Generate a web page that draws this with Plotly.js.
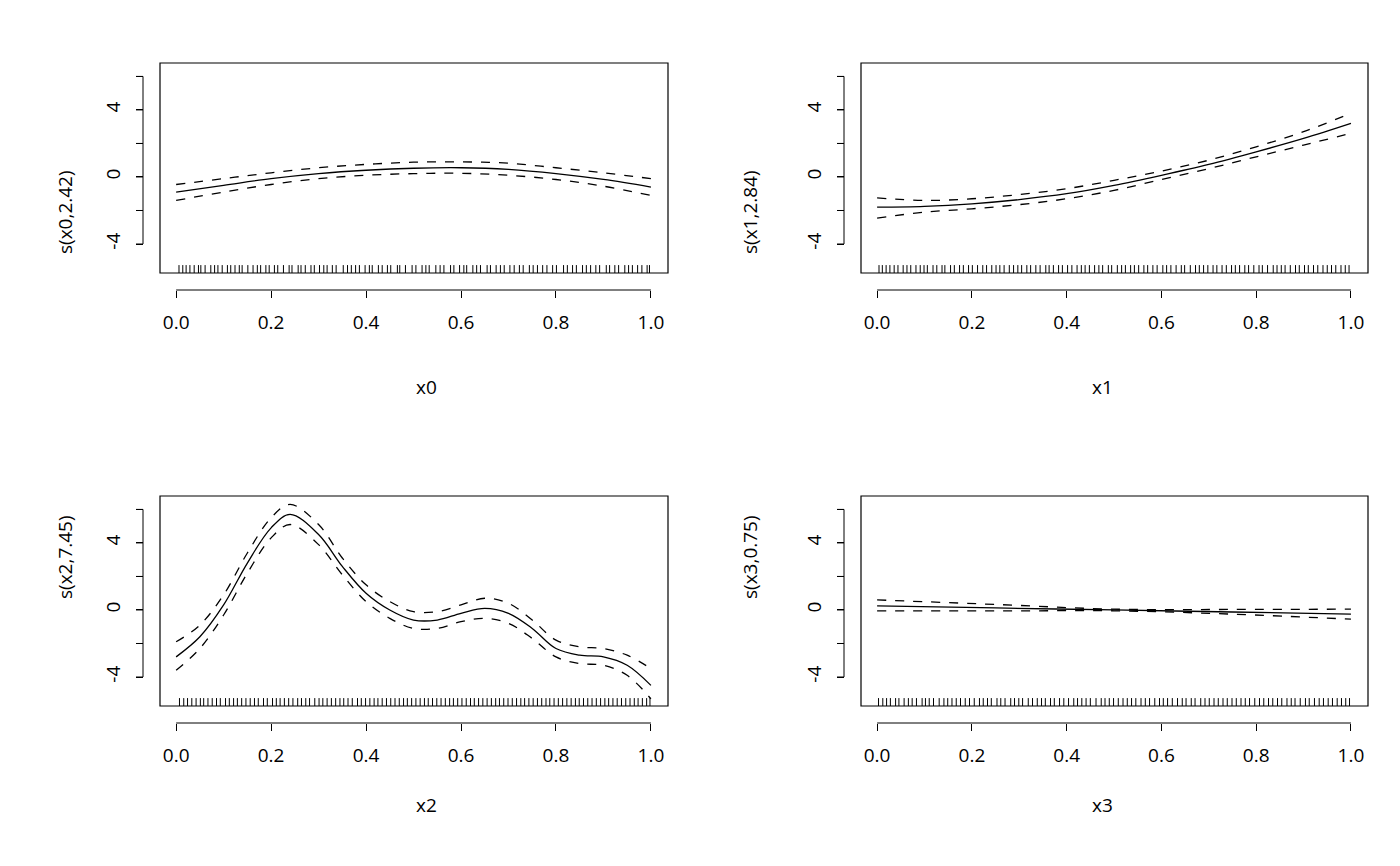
<!DOCTYPE html>
<html>
<head>
<meta charset="utf-8">
<script src="https://cdn.plot.ly/plotly-3.0.1.min.js"></script>
<style>body{margin:0;background:#fff}#plot{width:1400px;height:866px}</style>
</head>
<body>
<div id="plot"></div>
<script>
// smooth estimates
var xGrid = [0, 0.1, 0.2, 0.3, 0.4, 0.5, 0.6, 0.7, 0.8, 0.9, 1.0];
var fit0 = [-0.9, -0.5, -0.1, 0.2, 0.4, 0.52, 0.55, 0.45, 0.2, -0.15, -0.6];
var up0  = [-0.45, -0.1, 0.25, 0.55, 0.75, 0.88, 0.9, 0.82, 0.55, 0.25, -0.1];
var lo0  = [-1.4, -0.9, -0.45, -0.1, 0.1, 0.2, 0.22, 0.1, -0.15, -0.55, -1.1];

var fit1 = [-1.8, -1.75, -1.6, -1.35, -1.0, -0.5, 0.1, 0.75, 1.5, 2.3, 3.2];
var up1  = [-1.25, -1.4, -1.3, -1.05, -0.7, -0.2, 0.35, 1.0, 1.8, 2.7, 3.8];
var lo1  = [-2.45, -2.1, -1.9, -1.65, -1.3, -0.8, -0.15, 0.5, 1.2, 1.9, 2.6];

var xFine = [0, 0.05, 0.1, 0.15, 0.2, 0.24, 0.3, 0.35, 0.4, 0.45, 0.5, 0.55, 0.6, 0.65, 0.7, 0.75, 0.8, 0.85, 0.9, 0.95, 1.0];
var fit2 = [-2.8, -1.6, 0.3, 2.8, 4.9, 5.7, 4.5, 2.6, 1.0, 0.0, -0.6, -0.6, -0.2, 0.1, -0.2, -1.1, -2.3, -2.7, -2.8, -3.3, -4.5];
var up2  = [-1.9, -0.9, 0.9, 3.4, 5.5, 6.3, 5.1, 3.1, 1.5, 0.5, -0.1, -0.1, 0.3, 0.7, 0.4, -0.6, -1.8, -2.2, -2.3, -2.7, -3.5];
var lo2  = [-3.6, -2.3, -0.3, 2.2, 4.3, 5.1, 3.9, 2.1, 0.5, -0.5, -1.1, -1.1, -0.7, -0.5, -0.8, -1.7, -2.8, -3.2, -3.3, -3.9, -5.3];

var xCoarse = [0, 0.25, 0.5, 0.75, 1.0];
var fit3 = [0.25, 0.12, 0, -0.12, -0.25];
var up3  = [0.6, 0.33, 0.05, 0.03, 0.05];
var lo3  = [-0.05, -0.06, -0.05, -0.25, -0.55];

// rug positions (estimated)
var rug0 = [0.006,0.014,0.021,0.029,0.038,0.047,0.052,0.061,0.073,0.081,0.088,0.097,0.108,0.115,0.124,0.133,0.139,0.151,0.162,0.171,0.178,0.189,0.196,0.207,0.214,0.226,0.238,0.244,0.257,0.263,0.272,0.284,0.291,0.302,0.311,0.318,0.329,0.337,0.352,0.361,0.369,0.378,0.386,0.398,0.407,0.413,0.426,0.434,0.445,0.452,0.466,0.471,0.483,0.497,0.505,0.518,0.526,0.533,0.547,0.556,0.564,0.578,0.585,0.597,0.606,0.612,0.625,0.633,0.641,0.655,0.662,0.674,0.683,0.691,0.703,0.712,0.723,0.731,0.744,0.752,0.761,0.772,0.781,0.793,0.801,0.816,0.824,0.835,0.843,0.856,0.864,0.873,0.884,0.892,0.906,0.913,0.924,0.932,0.945,0.953,0.961,0.972,0.981,0.992,0.997];
var rug1 = [0.004,0.011,0.019,0.027,0.036,0.044,0.055,0.063,0.071,0.082,0.091,0.099,0.106,0.118,0.126,0.137,0.143,0.155,0.163,0.174,0.182,0.193,0.201,0.212,0.223,0.231,0.242,0.251,0.259,0.268,0.279,0.288,0.297,0.305,0.316,0.324,0.335,0.344,0.356,0.363,0.372,0.383,0.391,0.402,0.411,0.422,0.431,0.439,0.448,0.459,0.468,0.476,0.488,0.495,0.507,0.516,0.524,0.535,0.543,0.552,0.563,0.571,0.582,0.591,0.603,0.611,0.62,0.631,0.642,0.649,0.661,0.672,0.68,0.689,0.698,0.709,0.717,0.728,0.737,0.748,0.756,0.765,0.776,0.784,0.795,0.806,0.813,0.824,0.836,0.844,0.853,0.861,0.872,0.883,0.891,0.902,0.91,0.921,0.93,0.941,0.95,0.959,0.968,0.979,0.988,0.996];
var rug2 = [0.007,0.016,0.024,0.033,0.042,0.051,0.058,0.067,0.076,0.085,0.093,0.104,0.112,0.121,0.129,0.138,0.147,0.156,0.165,0.173,0.184,0.192,0.203,0.211,0.219,0.228,0.237,0.246,0.256,0.264,0.273,0.281,0.292,0.301,0.309,0.318,0.327,0.336,0.345,0.353,0.362,0.371,0.382,0.39,0.399,0.408,0.417,0.425,0.434,0.443,0.452,0.461,0.47,0.479,0.487,0.496,0.505,0.514,0.523,0.531,0.54,0.549,0.558,0.567,0.576,0.584,0.593,0.602,0.611,0.62,0.628,0.637,0.646,0.655,0.664,0.673,0.681,0.69,0.699,0.708,0.717,0.726,0.734,0.743,0.752,0.761,0.77,0.779,0.787,0.796,0.805,0.814,0.823,0.832,0.841,0.849,0.858,0.867,0.876,0.885,0.894,0.903,0.911,0.92,0.929,0.938,0.947,0.956,0.965,0.973,0.982,0.991,0.998];
var rug3 = [0.003,0.012,0.02,0.028,0.039,0.046,0.057,0.066,0.074,0.083,0.095,0.102,0.11,0.119,0.131,0.141,0.149,0.158,0.167,0.176,0.186,0.195,0.205,0.216,0.224,0.233,0.241,0.253,0.261,0.27,0.282,0.29,0.299,0.307,0.319,0.328,0.338,0.347,0.355,0.366,0.374,0.385,0.394,0.404,0.415,0.423,0.432,0.441,0.45,0.462,0.473,0.481,0.49,0.499,0.509,0.519,0.528,0.537,0.546,0.557,0.566,0.575,0.586,0.596,0.604,0.613,0.623,0.634,0.644,0.652,0.663,0.671,0.683,0.692,0.701,0.711,0.72,0.73,0.739,0.749,0.758,0.768,0.777,0.786,0.797,0.807,0.816,0.826,0.835,0.845,0.854,0.865,0.874,0.882,0.893,0.904,0.912,0.923,0.933,0.942,0.952,0.961,0.971,0.98,0.989,0.997];

var xTicks = [0, 0.2, 0.4, 0.6, 0.8, 1.0];
var yTicks = [-4, -2, 0, 2, 4, 6];
var yTickText = ['-4', '', '0', '', '4', ''];
var yTitles = ['s(x0,2.42)', 's(x1,2.84)', 's(x2,7.45)', 's(x3,0.75)'];
var xTitles = ['x0', 'x1', 'x2', 'x3'];

var panels = [
  {x: xGrid, fit: fit0, up: up0, lo: lo0, rug: rug0},
  {x: xGrid, fit: fit1, up: up1, lo: lo1, rug: rug1},
  {x: xFine, fit: fit2, up: up2, lo: lo2, rug: rug2},
  {x: xCoarse, fit: fit3, up: up3, lo: lo3, rug: rug3}
];

var W = 1400, H = 866;
var xDom = [[160 / W, 668 / W], [861 / W, 1368 / W]];
var yDom = [[1 - 273 / H, 1 - 63 / H], [1 - 706 / H, 1 - 496 / H]];
var font = {family: 'Open Sans, Noto Sans, sans-serif', size: 19, color: '#000'};

var data = [], shapes = [], annotations = [];
var layout = {
  width: W, height: H, margin: {l: 0, r: 0, t: 0, b: 0},
  paper_bgcolor: '#fff', plot_bgcolor: '#fff', showlegend: false, font: font
};

panels.forEach(function (p, i) {
  var col = i % 2, row = Math.floor(i / 2);
  var xa = 'x' + (i + 1), ya = 'y' + (i + 1);
  var xk = 'xaxis' + (i === 0 ? '' : i + 1), yk = 'yaxis' + (i === 0 ? '' : i + 1);
  var xPos = yDom[row][0] - 17 / H, yPos = xDom[col][0] - 17 / W;

  layout[xk] = {
    domain: xDom[col], anchor: 'free', position: xPos, range: [-0.034, 1.036],
    tickvals: xTicks, tickformat: '.1f', ticks: 'outside', ticklen: 7, tickwidth: 1,
    tickcolor: '#000', showgrid: false, zeroline: false, showline: false, ticklabelstandoff: 8
  };
  layout[yk] = {
    domain: yDom[row], anchor: 'free', position: yPos, range: [-5.73, 6.8],
    tickvals: yTicks, ticktext: yTickText, tickangle: -90, ticks: 'outside', ticklen: 7,
    tickwidth: 1, tickcolor: '#000', showgrid: false, zeroline: false, showline: false,
    ticklabelstandoff: 8
  };

  var common = {xaxis: xa, yaxis: ya, mode: 'lines', hoverinfo: 'skip'};
  data.push(Object.assign({x: p.x, y: p.fit, line: {color: '#000', width: 1.3, shape: 'spline'}}, common));
  data.push(Object.assign({x: p.x, y: p.up, line: {color: '#000', width: 1.3, dash: 'dash', shape: 'spline'}}, common));
  data.push(Object.assign({x: p.x, y: p.lo, line: {color: '#000', width: 1.3, dash: 'dash', shape: 'spline'}}, common));
  data.push({
    x: p.rug, y: p.rug.map(function () { return -5.55; }), xaxis: xa, yaxis: ya,
    mode: 'markers', hoverinfo: 'skip',
    marker: {symbol: 'line-ns', size: 7, line: {color: '#000', width: 1}}
  });

  // plot box
  shapes.push({type: 'rect', xref: xa + ' domain', yref: ya + ' domain', x0: 0, x1: 1, y0: 0, y1: 1,
    line: {color: '#000', width: 1.2}});
  // R-style axis lines from first to last tick
  shapes.push({type: 'line', xref: xa, yref: 'paper', x0: 0, x1: 1, y0: xPos, y1: xPos,
    line: {color: '#000', width: 1}});
  shapes.push({type: 'line', xref: 'paper', yref: ya, x0: yPos, x1: yPos, y0: -4, y1: 6,
    line: {color: '#000', width: 1}});
  yTicks.forEach(function (t) {
    shapes.push({type: 'line', xref: 'paper', yref: ya, x0: yPos - 7 / W, x1: yPos, y0: t, y1: t,
      line: {color: '#000', width: 1}});
  });

  annotations.push({text: xTitles[i], xref: 'paper', yref: 'paper', showarrow: false,
    x: (xDom[col][0] + xDom[col][1]) / 2, y: row === 0 ? 1 - 387 / H : 1 - 820 / H, font: font});
  annotations.push({text: yTitles[i], xref: 'paper', yref: 'paper', showarrow: false, textangle: -90,
    x: col === 0 ? 50 / W : 750 / W, y: (yDom[row][0] + yDom[row][1]) / 2, font: font});
});

layout.shapes = shapes;
layout.annotations = annotations;
Plotly.newPlot('plot', data, layout, {displayModeBar: false, staticPlot: true});
</script>
</body>
</html>
